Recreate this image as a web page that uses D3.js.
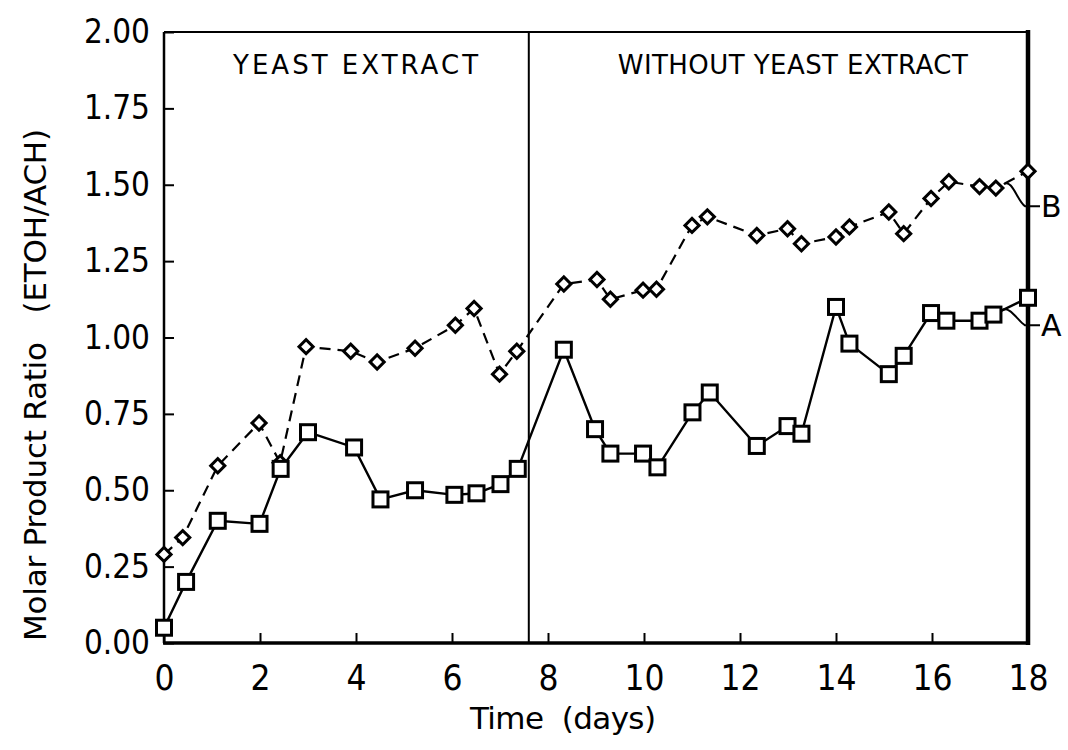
<!DOCTYPE html>
<html>
<head>
<meta charset="utf-8">
<script src="https://cdn.jsdelivr.net/npm/d3@7"></script>
<style>
  body { margin: 0; background: #fff; }
  .tick text { font-family: "DejaVu Sans Condensed", "DejaVu Sans", sans-serif; fill: #000; }
  .tick line { stroke: #000; stroke-width: 2; }
  .label { font-family: "DejaVu Sans", sans-serif; fill: #000; white-space: pre; }
</style>
</head>
<body>
<div id="plot"></div>
<script>
// time (days) and molar ratio
var daysA = [0, 0.46, 1.12, 1.99, 2.43, 3.0, 3.96, 4.51, 5.23, 6.05, 6.51, 7.01, 7.37,
  8.33, 8.98, 9.3, 9.98, 10.28, 11.01, 11.37, 12.35, 12.99, 13.28, 14.0, 14.28,
  15.1, 15.41, 15.98, 16.3, 16.99, 17.28, 18.0];
var ratioA = [0.05, 0.20, 0.40, 0.39, 0.57, 0.69, 0.64, 0.47, 0.50, 0.485, 0.49, 0.52, 0.57,
  0.96, 0.70, 0.62, 0.62, 0.575, 0.755, 0.82, 0.645, 0.71, 0.685, 1.10, 0.98,
  0.88, 0.94, 1.08, 1.055, 1.055, 1.075, 1.13];

var daysB = [0, 0.39, 1.12, 1.98, 2.42, 2.96, 3.89, 4.44, 5.23, 6.07, 6.46, 6.99, 7.35,
  8.33, 9.02, 9.30, 9.98, 10.26, 11.0, 11.32, 12.35, 12.99, 13.28, 14.0, 14.28,
  15.1, 15.41, 15.98, 16.35, 16.99, 17.33, 18.0];
var ratioB = [0.29, 0.345, 0.58, 0.72, 0.59, 0.97, 0.955, 0.92, 0.965, 1.04, 1.095, 0.88, 0.955,
  1.175, 1.19, 1.125, 1.155, 1.158, 1.367, 1.395, 1.334, 1.356, 1.307, 1.329, 1.362,
  1.411, 1.34, 1.455, 1.51, 1.494, 1.489, 1.544];

var xTicks = [0, 2, 4, 6, 8, 10, 12, 14, 16, 18];
var yTicks = [0, 0.25, 0.5, 0.75, 1.0, 1.25, 1.5, 1.75, 2.0];
var switchDay = 7.6; // yeast extract removed
var phaseLabels = [{text: "YEAST EXTRACT", x: 3.99, w: 245}, {text: "WITHOUT YEAST EXTRACT", x: 13.1, w: 350}];

var W = 1068, H = 750;
var x = d3.scaleLinear().domain([0, 18]).range([164, 1028]);
var y = d3.scaleLinear().domain([0, 2]).range([643, 32]);

var svg = d3.select("#plot").append("svg")
  .attr("width", W).attr("height", H);

svg.append("rect").attr("width", W).attr("height", H).attr("fill", "#fff");

// axes
var xAxis = d3.axisBottom(x).tickValues(xTicks).tickSizeInner(-10).tickSizeOuter(0).tickPadding(22);
var yAxis = d3.axisLeft(y).tickValues(yTicks).tickSizeInner(-10).tickSizeOuter(0).tickPadding(14)
  .tickFormat(d3.format(".2f"));

var gx = svg.append("g").attr("transform", "translate(0," + y(0) + ")").call(xAxis);
gx.select(".domain").remove();
gx.selectAll("text").style("font-size", "35px");

var gy = svg.append("g").attr("transform", "translate(" + x(0) + ",0)").call(yAxis);
gy.select(".domain").remove();
gy.selectAll("text").style("font-size", "33px");

// frame
var frame = svg.append("g").attr("stroke", "#000").attr("fill", "none");
frame.append("line").attr("x1", x(0)).attr("x2", x(18)).attr("y1", y(2)).attr("y2", y(2)).attr("stroke-width", 2);
frame.append("line").attr("x1", x(0)).attr("x2", x(0)).attr("y1", y(2)).attr("y2", y(0)).attr("stroke-width", 2.5);
frame.append("line").attr("x1", x(0) - 1).attr("x2", x(18) + 2).attr("y1", y(0)).attr("y2", y(0)).attr("stroke-width", 3.5);
frame.append("line").attr("x1", x(18)).attr("x2", x(18)).attr("y1", y(2) - 2).attr("y2", y(0) + 2).attr("stroke-width", 4.5);
frame.append("line").attr("x1", x(switchDay)).attr("x2", x(switchDay)).attr("y1", y(2)).attr("y2", y(0)).attr("stroke-width", 2);

// phase labels
svg.selectAll(".phase").data(phaseLabels).enter().append("text")
  .attr("class", "label phase")
  .attr("x", function(d) { return x(d.x); })
  .attr("y", y(1.862))
  .attr("text-anchor", "middle")
  .attr("textLength", function(d) { return d.w; })
  .style("font-size", "26px")
  .text(function(d) { return d.text; });

var ptsA = daysA.map(function(d, i) { return {x: d, y: ratioA[i]}; });
var ptsB = daysB.map(function(d, i) { return {x: d, y: ratioB[i]}; });

var line = d3.line()
  .x(function(d) { return x(d.x); })
  .y(function(d) { return y(d.y); });

// B: dashed line with diamonds
svg.append("path").datum(ptsB)
  .attr("d", line)
  .attr("fill", "none").attr("stroke", "#000").attr("stroke-width", 2.2)
  .attr("stroke-dasharray", "11,7");

// A: solid line with squares
svg.append("path").datum(ptsA)
  .attr("d", line)
  .attr("fill", "none").attr("stroke", "#000").attr("stroke-width", 2.4);

svg.append("g").selectAll("path")
  .data(ptsB).enter()
  .append("path")
  .attr("d", d3.symbol().type(d3.symbolSquare).size(100))
  .attr("transform", function(d) { return "translate(" + x(d.x) + "," + y(d.y) + ") rotate(45)"; })
  .attr("fill", "#fff").attr("stroke", "#000").attr("stroke-width", 3);

svg.append("g").selectAll("rect")
  .data(ptsA).enter()
  .append("rect")
  .attr("x", function(d) { return x(d.x) - 7.5; })
  .attr("y", function(d) { return y(d.y) - 7.5; })
  .attr("width", 15).attr("height", 15)
  .attr("fill", "#fff").attr("stroke", "#000").attr("stroke-width", 3);

// series tags A / B with curly leaders
function tag(pts, labelVal, txt) {
  var last = pts[pts.length - 2];
  var x0 = x(last.x) + 8, y0 = y(last.y) - 4;
  var yl = y(labelVal);
  var xe = x(18);
  svg.append("path")
    .attr("d", "M" + x0 + "," + y0 + " C" + (x0 + 8) + "," + (y0 - 6) + " " + (xe - 10) + "," + (yl - 4) + " " + (xe - 3) + "," + yl + " L" + (xe + 12) + "," + yl)
    .attr("fill", "none").attr("stroke", "#000").attr("stroke-width", 2);
  svg.append("text").attr("class", "label")
    .attr("x", xe + 13).attr("y", yl)
    .attr("dy", "0.36em")
    .style("font-size", "30px")
    .text(txt);
}
tag(ptsB, 1.43, "B");
tag(ptsA, 1.04, "A");

// axis titles
svg.append("text").attr("class", "label")
  .attr("x", 563).attr("y", 718)
  .attr("text-anchor", "middle")
  .attr("dy", "0.36em")
  .attr("textLength", 186)
  .style("font-size", "31px")
  .text("Time  (days)");

svg.append("text").attr("class", "label")
  .attr("transform", "translate(35," + 385 + ") rotate(-90)")
  .attr("text-anchor", "middle")
  .attr("dy", "0.36em")
  .attr("textLength", 512)
  .style("font-size", "31px")
  .text("Molar Product Ratio   (ETOH/ACH)");
</script>
</body>
</html>
